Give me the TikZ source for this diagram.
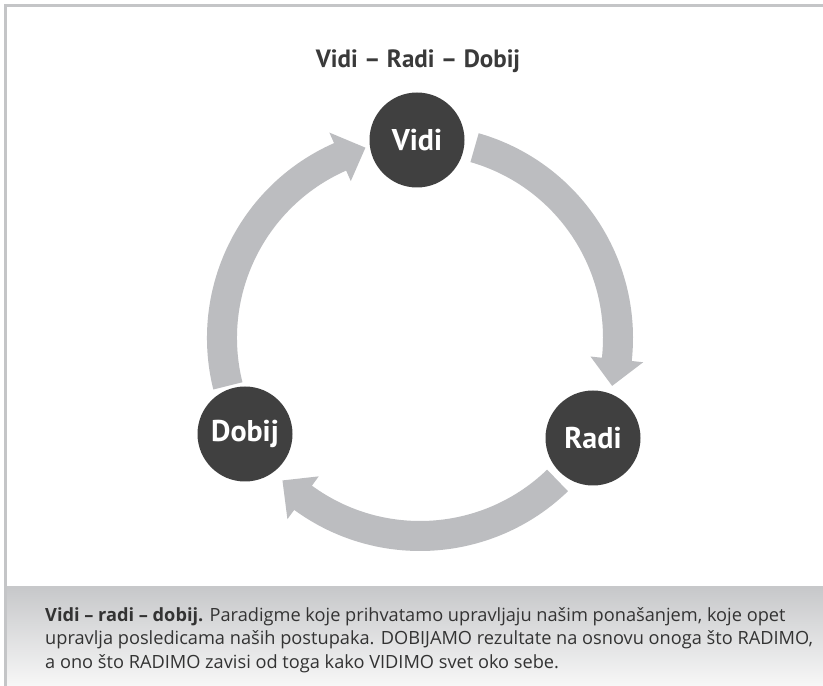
\documentclass[tikz,border=0pt]{standalone}
\usepackage{fontspec}
\setmainfont{PT Sans}
\newfontfamily\capfont{Open Sans}
\definecolor{ringgray}{RGB}{188,189,192}
\definecolor{nodedark}{RGB}{64,64,64}
\definecolor{framegray}{RGB}{196,197,199}
\definecolor{bandtop}{RGB}{199,200,202}
\definecolor{bandbot}{RGB}{247,247,247}
\newcommand\cyclearrow[2]{%
  \pgfmathsetmacro\hb{#2+7.8}%
  \fill[ringarrow] (#1:213pt) arc[start angle=#1, end angle=\hb, radius=213pt]
    -- (\hb:224.5pt) -- (#2:198pt) -- (\hb:171.5pt) -- (\hb:183pt)
    arc[start angle=\hb, end angle=#1, radius=183pt] -- cycle;}
\begin{document}
\begin{tikzpicture}[x=1pt,y=1pt,
  stage/.style={circle, fill=nodedark, minimum size=95pt, inner sep=0pt,
    text=white, font=\fontsize{30}{34}\selectfont\bfseries},
  ringarrow/.style={fill=ringgray, draw=none}]
\useasboundingbox (0,0) rectangle (823,686);
\fill[white] (0,0) rectangle (823,686);
\shade[top color=bandtop, bottom color=bandbot] (5.5,0) rectangle (823,99);
\draw[framegray, line width=3pt] (5.5,0) -- (5.5,680) -- (823,680);
\node[font=\fontsize{25}{30}\selectfont\bfseries, text=nodedark!90!black] (title) at (418,625) {Vidi – Radi – Dobij};
\begin{scope}[shift={(420,348)}]
\cyclearrow{74}{-14}
\cyclearrow{-46}{-134}
\cyclearrow{194}{106}
\end{scope}
\node[stage] (vidi) at (417,546) {Vidi};
\node[stage] (radi) at (593,248) {Radi};
\node[stage] (dobij) at (245,252) {Dobij};
\node[anchor=north west, align=left, inner sep=0pt,
  font=\capfont\fontsize{18.2}{23.6}\selectfont, text=nodedark!80!black] (caption) at (45,79)
  {\textbf{Vidi – radi – dobij.} Paradigme koje prihvatamo upravljaju našim ponašanjem, koje opet\\
   upravlja posledicama naših postupaka. DOBIJAMO rezultate na osnovu onoga što RADIMO,\\
   a ono što RADIMO zavisi od toga kako VIDIMO svet oko sebe.};
\end{tikzpicture}
\end{document}
